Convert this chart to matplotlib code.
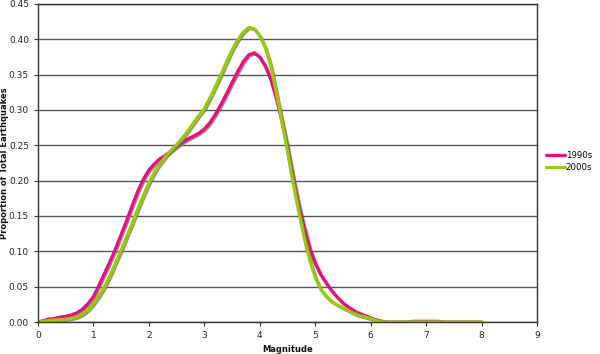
import matplotlib
matplotlib.use("Agg")
import matplotlib.pyplot as plt
import matplotlib.patheffects as pe

x_vals = [0.0, 0.1, 0.2, 0.3, 0.4, 0.5, 0.6, 0.7, 0.8, 0.9,
          1.0, 1.1, 1.2, 1.3, 1.4, 1.5, 1.6, 1.7, 1.8, 1.9,
          2.0, 2.1, 2.2, 2.3, 2.4, 2.5, 2.6, 2.7, 2.8, 2.9,
          3.0, 3.1, 3.2, 3.3, 3.4, 3.5, 3.6, 3.7, 3.8, 3.9,
          4.0, 4.1, 4.2, 4.3, 4.4, 4.5, 4.6, 4.7, 4.8, 4.9,
          5.0, 5.1, 5.2, 5.3, 5.4, 5.5, 5.6, 5.7, 5.8, 5.9,
          6.0, 6.1, 6.2, 6.3, 6.4, 6.6, 6.8, 7.0, 7.2, 7.4,
          7.6, 7.8, 8.0]

s1990 = [0.000, 0.002, 0.004, 0.005, 0.007, 0.008, 0.010, 0.013, 0.018, 0.026,
         0.036, 0.052, 0.069, 0.086, 0.104, 0.124, 0.144, 0.165, 0.185, 0.202,
         0.215, 0.224, 0.231, 0.236, 0.242, 0.248, 0.254, 0.259, 0.263, 0.267,
         0.273, 0.282, 0.294, 0.308, 0.323, 0.339, 0.354, 0.368, 0.378, 0.381,
         0.375, 0.362, 0.343, 0.316, 0.284, 0.248, 0.206, 0.167, 0.134, 0.104,
         0.083, 0.067, 0.055, 0.044, 0.035, 0.027, 0.021, 0.016, 0.012, 0.009,
         0.006, 0.003, 0.001, 0.000, 0.000, 0.000, 0.001, 0.001, 0.001, 0.000,
         0.000, 0.000, 0.000]

s2000 = [0.000, 0.001, 0.002, 0.003, 0.003, 0.004, 0.005, 0.007, 0.011, 0.017,
         0.026, 0.037, 0.050, 0.066, 0.084, 0.102, 0.121, 0.140, 0.160, 0.179,
         0.197, 0.212, 0.224, 0.234, 0.243, 0.251, 0.260, 0.270, 0.281, 0.292,
         0.302, 0.317, 0.333, 0.350, 0.368, 0.385, 0.399, 0.410, 0.417, 0.415,
         0.405, 0.388, 0.362, 0.324, 0.283, 0.241, 0.197, 0.157, 0.119, 0.088,
         0.063, 0.046, 0.036, 0.029, 0.024, 0.020, 0.016, 0.012, 0.009, 0.007,
         0.005, 0.002, 0.000, 0.000, 0.000, 0.000, 0.000, 0.000, 0.000, 0.000,
         0.000, 0.000, 0.000]

labels = ["1990s", "2000s"]
colors = ["#EC0C82", "#99CC00"]

x_ticks = [0, 1, 2, 3, 4, 5, 6, 7, 8, 9]
y_ticks = [0.00, 0.05, 0.10, 0.15, 0.20, 0.25, 0.30, 0.35, 0.40, 0.45]

plt.rcParams['font.family'] = ['DejaVu Sans']

fig = plt.figure(figsize=(6.0, 3.54), dpi=100)
ax = fig.add_axes([38/600, 32/354, (537-38)/600, (322-4)/354])

ax.set_xlim(0, 9)
ax.set_ylim(0, 0.45)
ax.set_yticks(y_ticks)
ax.set_yticklabels([f"{v:.2f}" for v in y_ticks])
ax.set_xticks(x_ticks)
ax.set_xticklabels([str(v) for v in x_ticks])
ax.yaxis.grid(True, color="#555555", linewidth=1.0)
ax.set_axisbelow(True)

for sp in ax.spines.values():
    sp.set_color("#333333")
    sp.set_linewidth(1.0)

ax.tick_params(axis="both", labelsize=6.5, colors="#333333", length=3, width=0.8,
               direction="out", pad=3.5)
for lbl in ax.get_xticklabels() + ax.get_yticklabels():
    lbl.set_color("#222222")

shadow = [pe.SimpleLineShadow(offset=(0.8, -0.8), shadow_color="#777777", alpha=0.8),
          pe.Normal()]
for series, lab, col in zip([s1990, s2000], labels, colors):
    ax.plot(x_vals, series, color=col, linewidth=2.3, label=lab,
            solid_capstyle="round", solid_joinstyle="round",
            path_effects=shadow)

fig.text((38 + 537) / 2 / 600, (354 - 349) / 354, "Magnitude", fontsize=6,
         fontweight="bold", ha="center", va="center", color="#111111")
fig.text(5 / 600, (354 - 163) / 354, "Proportion of Total Earthquakes", fontsize=6,
         fontweight="bold", ha="center", va="center", rotation=90, color="#111111")

leg = ax.legend(loc="center left", bbox_to_anchor=(1.018, 0.505), frameon=False,
                fontsize=6.2, handlelength=2.2, handletextpad=0.1,
                labelspacing=0.35, borderaxespad=0, borderpad=0)
for h in leg.get_lines():
    h.set_path_effects([])
    h.set_linewidth(2.3)

fig.savefig("out.png", dpi=100)
